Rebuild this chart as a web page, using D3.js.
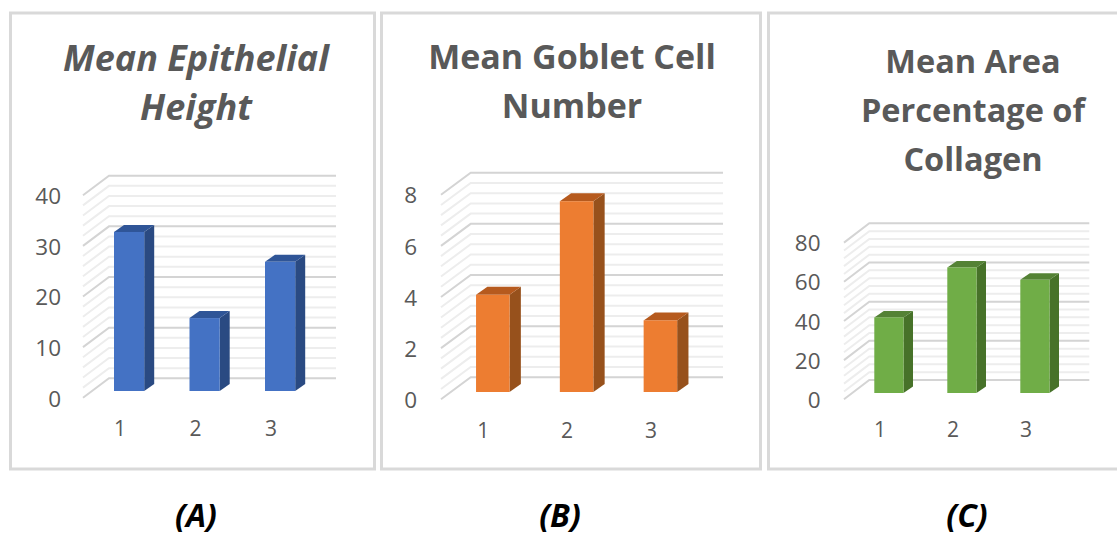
<!DOCTYPE html>
<html>
<head>
<meta charset="utf-8">
<script src="https://cdn.jsdelivr.net/npm/d3@7"></script>
<style>
  body { margin: 0; background: #fff; }
  svg { display: block; font-family: "Open Sans", sans-serif; }
</style>
</head>
<body>
<div id="chart"></div>
<script>
// data
var categories = ["1", "2", "3"];
var epithelialHeight = [31.4, 14.4, 25.5];
var gobletCells = [3.8, 7.46, 2.8];
var collagenArea = [38.6, 64.1, 57.8];

var epithelialTicks = [0, 10, 20, 30, 40];
var gobletTicks = [0, 2, 4, 6, 8];
var collagenTicks = [0, 20, 40, 60, 80];

var svg = d3.select("#chart")
  .append("svg")
    .attr("width", 1117)
    .attr("height", 536);

function drawPanel(p) {
  // outer frame
  svg.append("rect")
    .attr("x", p.frame[0])
    .attr("y", 13)
    .attr("width", p.frame[1] - p.frame[0])
    .attr("height", 456)
    .attr("fill", "#fff")
    .attr("stroke", "#d9d9d9")
    .attr("stroke-width", 3);

  // title
  var title = svg.append("text")
    .attr("text-anchor", "middle")
    .attr("fill", "#595959")
    .attr("font-size", p.titleSize)
    .attr("font-weight", 700)
    .attr("font-style", p.italic ? "italic" : "normal");
  p.title.forEach(function(line, i) {
    title.append("tspan")
      .attr("x", p.titleX)
      .attr("y", p.titleY + i * 49)
      .text(line);
  });

  // y scale sits on the back wall, the other planes are offsets of it
  var y = d3.scaleLinear()
    .domain([0, p.ticks[p.ticks.length - 1]])
    .range(p.yBack);

  var x = d3.scaleBand()
    .domain(p.categories)
    .range(p.xBand)
    .paddingInner(0.6)
    .paddingOuter(0.3);

  // 4 minor lines between each major tick
  var step = (p.ticks[1] - p.ticks[0]) / 5;
  var gridValues = d3.range(0, 5 * (p.ticks.length - 1) + 1).map(function(i) { return i * step; });

  var grid = svg.append("g").attr("fill", "none");
  grid.selectAll("path")
    .data(gridValues)
    .enter()
    .append("path")
    .attr("d", function(d) {
      return "M" + (p.wall[0] + p.front[0]) + "," + (y(d) + p.front[1]) +
             "L" + p.wall[0] + "," + y(d) +
             "H" + p.wall[1];
    })
    .attr("stroke", function(d, i) { return i % 5 == 0 ? "#d4d4d4" : "#ededed"; })
    .attr("stroke-width", 2);

  // Bars: side, top, then front face
  var bars = svg.append("g");
  var baseY = y(0) + p.barDy;

  bars.selectAll(".side")
    .data(p.values)
    .enter()
    .append("path")
    .attr("class", "side")
    .attr("fill", p.dark)
    .attr("d", function(d, i) {
      var r = x(p.categories[i]) + x.bandwidth(), t = y(d) + p.barDy;
      return "M" + r + "," + t + "l" + p.depth[0] + "," + (-p.depth[1]) +
             "V" + (baseY - p.depth[1]) + "L" + r + "," + baseY + "Z";
    });

  bars.selectAll(".top")
    .data(p.values)
    .enter()
    .append("path")
    .attr("class", "top")
    .attr("fill", p.mid)
    .attr("d", function(d, i) {
      var l = x(p.categories[i]), t = y(d) + p.barDy;
      return "M" + l + "," + t + "l" + p.depth[0] + "," + (-p.depth[1]) +
             "h" + x.bandwidth() + "l" + (-p.depth[0]) + "," + p.depth[1] + "Z";
    });

  bars.selectAll(".front")
    .data(p.values)
    .enter()
    .append("rect")
    .attr("class", "front")
    .attr("fill", p.color)
    .attr("x", function(d, i) { return x(p.categories[i]); })
    .attr("y", function(d) { return y(d) + p.barDy; })
    .attr("width", x.bandwidth())
    .attr("height", function(d) { return y(0) - y(d); });

  // Y axis
  var yAxis = svg.append("g")
    .attr("transform", "translate(" + p.yLabelX + "," + (p.front[1] + 1) + ")")
    .call(d3.axisLeft(y).tickValues(p.ticks).tickSize(0).tickPadding(0));
  yAxis.select(".domain").remove();
  yAxis.selectAll("text")
    .attr("fill", "#595959")
    .attr("font-size", 22.5)
    .attr("font-family", "Open Sans");

  // X axis
  var xAxis = svg.append("g")
    .attr("transform", "translate(" + p.xLabelDx + "," + p.xLabelY + ")")
    .call(d3.axisBottom(x).tickSize(0).tickPadding(0));
  xAxis.select(".domain").remove();
  xAxis.selectAll("text")
    .attr("fill", "#595959")
    .attr("font-size", 21)
    .attr("font-family", "Open Sans");

  // panel letter below the frame
  svg.append("text")
    .attr("x", p.letterX)
    .attr("y", 526.5)
    .attr("text-anchor", "middle")
    .attr("fill", "#000")
    .attr("font-size", 32)
    .attr("font-weight", 700)
    .attr("font-style", "italic")
    .text(p.letter);
}

drawPanel({
  title: ["Mean Epithelial", "Height"], italic: true, titleX: 196, titleY: 71, titleSize: 36,
  frame: [10.5, 374.5], values: epithelialHeight, categories: categories, ticks: epithelialTicks,
  yBack: [378.3, 175.7], xBand: [91.35, 317.85], wall: [109, 336], front: [-26, 19.5],
  barDy: 12.7, depth: [10, 7], yLabelX: 61, xLabelDx: -9, xLabelY: 421,
  color: "#4472c4", mid: "#2f5597", dark: "#2a4a82", letter: "(A)", letterX: 196
});

drawPanel({
  title: ["Mean Goblet Cell", "Number"], italic: false, titleX: 572, titleY: 69, titleSize: 34,
  frame: [381.5, 760.5], values: gobletCells, categories: categories, ticks: gobletTicks,
  yBack: [377.3, 172.7], xBand: [450.9, 702.3], wall: [470.7, 723], front: [-29.7, 22],
  barDy: 14.7, depth: [11.3, 8], yLabelX: 417, xLabelDx: -9.5, xLabelY: 423,
  color: "#ed7d31", mid: "#b65a1e", dark: "#97511c", letter: "(B)", letterX: 560
});

drawPanel({
  title: ["Mean Area", "Percentage of", "Collagen"], italic: false, titleX: 973, titleY: 73, titleSize: 32.5,
  frame: [768.5, 1125], values: collagenArea, categories: categories, ticks: collagenTicks,
  yBack: [380, 223.3], xBand: [852.4, 1071.4], wall: [869.3, 1089.3], front: [-25.3, 19.3],
  barDy: 13, depth: [9.5, 6.5], yLabelX: 820.5, xLabelDx: -9, xLabelY: 422,
  color: "#70ad47", mid: "#548235", dark: "#477229", letter: "(C)", letterX: 967
});
</script>
</body>
</html>
